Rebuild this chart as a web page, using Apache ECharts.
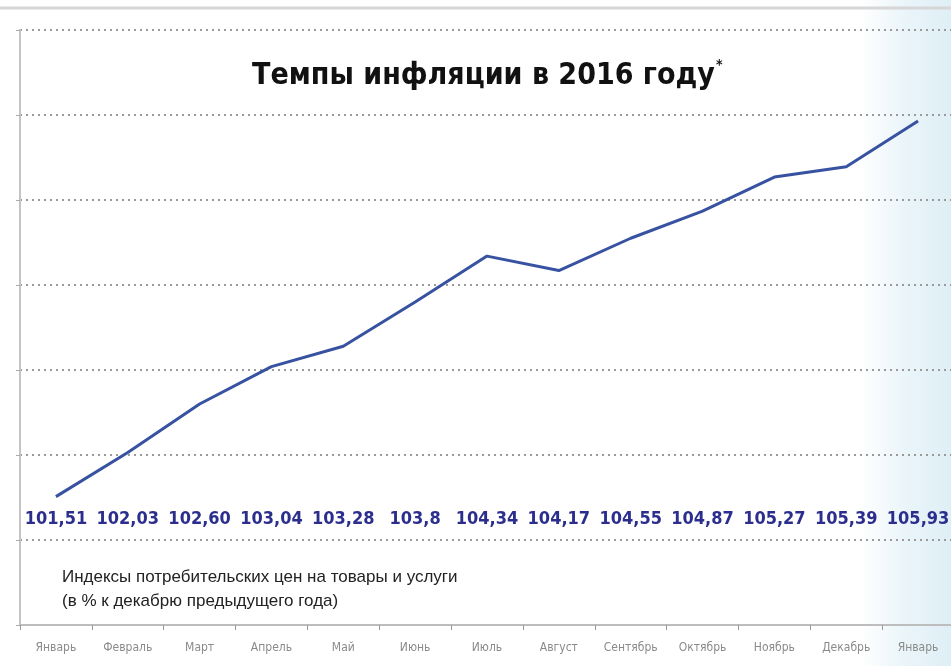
<!DOCTYPE html>
<html><head><meta charset="utf-8">
<script src="https://cdn.jsdelivr.net/npm/echarts@6/dist/echarts.min.js"></script>
<style>html,body{margin:0;padding:0;background:#fff}#c{width:951px;height:666px}</style>
</head><body><div id="c"></div>
<script>
const months = ['Январь','Февраль','Март','Апрель','Май','Июнь','Июль','Август','Сентябрь','Октябрь','Ноябрь','Декабрь','Январь'];
const values = [101.51,102.03,102.60,103.04,103.28,103.8,104.34,104.17,104.55,104.87,105.27,105.39,105.93];
const valueLabels = ['101,51','102,03','102,60','103,04','103,28','103,8','104,34','104,17','104,55','104,87','105,27','105,39','105,93'];
const yMin = 100, yMax = 107, yStep = 1;
const titleText = 'Темпы инфляции в 2016 году';
const noteLines = ['Индексы потребительских цен на товары и услуги','(в % к декабрю предыдущего года)'];

const NARROW = "'DejaVu Sans Condensed','Liberation Sans Narrow',sans-serif";
const chart = echarts.init(document.getElementById('c'), null, {renderer:'canvas'});
chart.setOption({
  backgroundColor:'#fff',
  animation:false,
  grid:{left:20, top:30, bottom:41, width:934, outerBoundsMode:'none', containLabel:false},
  graphic:[
    {type:'rect', z:-10, left:860, top:0, shape:{width:91, height:666},
     style:{fill:new echarts.graphic.LinearGradient(0,0,1,0,[{offset:0,color:'rgba(225,240,246,0)'},{offset:0.5,color:'rgba(225,240,246,0.7)'},{offset:1,color:'rgba(220,238,245,0.95)'}])}},
    {type:'line', z:-5, shape:{x1:0,y1:8,x2:951,y2:8}, style:{stroke:'#d6d6d6', lineWidth:3}},
    {type:'text', left:252, top:61, z:10,
     style:{text:titleText, font:"bold 30px "+NARROW, fill:'#111'}},
    {type:'text', left:716, top:58, z:10,
     style:{text:'*', font:"bold 14px "+NARROW, fill:'#111'}},
    {type:'text', left:62, top:565, z:10,
     style:{text:noteLines.join('\n'), font:"17px 'Liberation Sans',Arial,sans-serif", fill:'#222', lineHeight:24}}
  ],
  xAxis:[{
    type:'category', data:months, boundaryGap:true,
    axisLine:{lineStyle:{color:'#bdbdbd', width:2}},
    axisTick:{show:true, length:5, lineStyle:{color:'#999'}},
    axisLabel:{color:'#8a8a8a', fontSize:12, margin:17, interval:0, fontFamily:NARROW},
    splitLine:{show:false}
  },{
    type:'category', data:valueLabels, boundaryGap:true, position:'bottom', offset:-106,
    axisLine:{show:false}, axisTick:{show:false}, splitLine:{show:false},
    axisLabel:{color:'#2b2e8c', fontSize:18, fontWeight:'bold', fontFamily:NARROW, margin:0, interval:0, verticalAlign:'middle', hideOverlap:false}
  }],
  yAxis:{
    type:'value', min:yMin, max:yMax, interval:yStep,
    axisLine:{show:true, lineStyle:{color:'#c4c4c4', width:2}},
    axisTick:{show:true, length:4, lineStyle:{color:'#aaa'}},
    axisLabel:{show:false},
    splitLine:{show:true, lineStyle:{color:'#9a9a9a', type:[2,4], width:2}}
  },
  series:[{
    type:'line', data:values, xAxisIndex:0, symbol:'none',
    lineStyle:{color:'#3852a2', width:3}
  }]
});
</script></body></html>
